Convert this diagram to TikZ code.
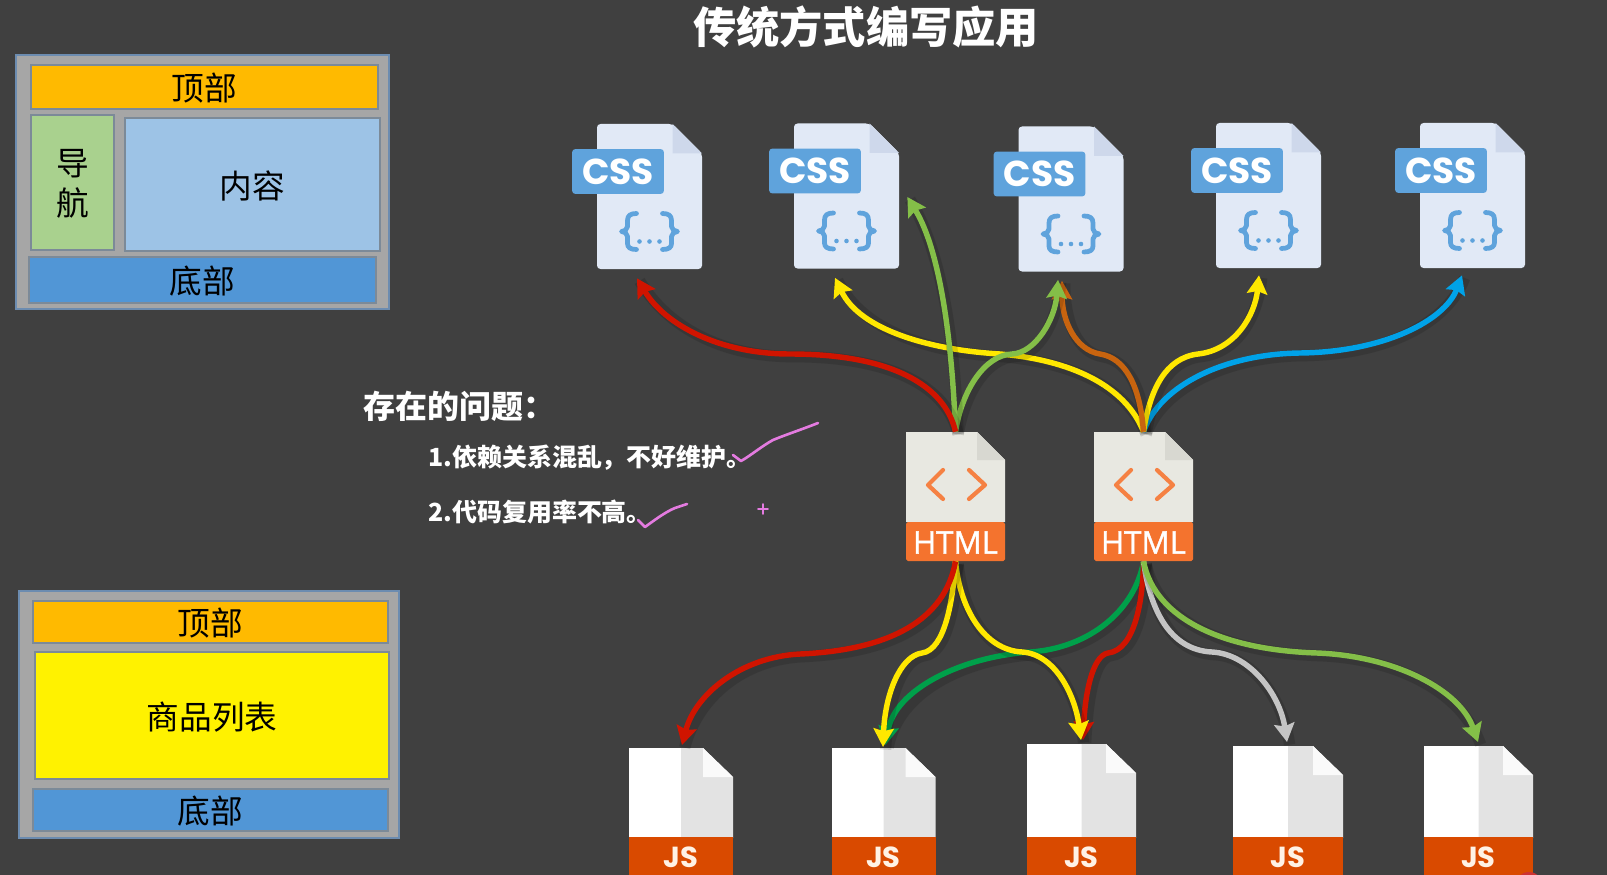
\documentclass[tikz,border=0pt]{standalone}
\usepackage{fontspec}
\usepackage{xcolor}
\usepackage{pgf,tikz}
\usetikzlibrary{arrows.meta,positioning,calc}
\setmainfont{Noto Sans CJK SC}
\newfontfamily\iconfont{Poppins}
\newfontfamily\htmlfont[FakeBold=1.2]{Open Sans}

\def\px{0.569pt}
\definecolor{bgcol}{HTML}{404040}
\definecolor{topcol}{HTML}{FFBA00}
\definecolor{navcol}{HTML}{A9D18E}
\definecolor{maincol}{HTML}{9DC3E6}
\definecolor{footcol}{HTML}{5196D6}
\definecolor{listcol}{HTML}{FFF200}
\definecolor{framecol}{HTML}{A6A6A6}
\definecolor{frameline}{HTML}{6C8CB0}
\definecolor{partline}{HTML}{7C8A98}
\definecolor{cssface}{HTML}{E1E9F6}
\definecolor{cssfold}{HTML}{CED8EB}
\definecolor{cssblue}{HTML}{5FA3DC}
\definecolor{htmlface}{HTML}{E8E8E1}
\definecolor{htmlfold}{HTML}{D8D8D1}
\definecolor{htmlband}{HTML}{F4732E}
\definecolor{jsgrey}{HTML}{E3E3E3}
\definecolor{jsband}{HTML}{D94A00}
\definecolor{redline}{HTML}{D01400}
\definecolor{yellowline}{HTML}{FFE800}
\definecolor{greenline}{HTML}{84BF48}
\definecolor{darkgreenline}{HTML}{00A04A}
\definecolor{orangeline}{HTML}{C8640F}
\definecolor{blueline}{HTML}{00A2E8}
\definecolor{greyline}{HTML}{C4C4C4}
\definecolor{penline}{HTML}{E47BE0}

\tikzset{
  frame/.style={fill=framecol,draw=frameline,line width=0.7pt,inner sep=0pt},
  part/.style={draw=partline,line width=0.8pt,inner sep=0pt,text=black,text depth=0pt,font=\fontsize{18.6}{22}\selectfont,align=center},
  flow/.style={line width=3.1pt,-{Stealth[length=10.5pt,width=11.5pt,inset=1.5pt]},
    preaction={draw=black,opacity=.13,line width=6.5pt,transform canvas={xshift=1.5pt,yshift=-1.5pt},-}},
  pen/.style={draw=penline,line width=1.5pt,line join=round,line cap=round},
  sheet/.style={inner sep=0pt,minimum width=#1*\px},
}

% sheet with a tab and curly braces: name, centre x, centre y
\newcommand{\cssdoc}[3]{
  \begin{scope}[shift={(#2,#3)}]
    \node[sheet=105,minimum height=145*\px] (#1) at (0,0) {};
    \fill[cssface,rounded corners=2pt] (-52.5,-72.5) -- (23,-72.5) -- (52.5,-43) -- (52.5,72.5) -- (-52.5,72.5) -- cycle;
    \fill[cssfold] (23,-72.5) -- (52.5,-43) -- (23,-43) -- cycle;
    \node[fill=cssblue,rounded corners=2pt,inner sep=0pt,minimum width=92*\px,minimum height=45*\px,text=white,font=\iconfont\bfseries\fontsize{20.5}{24}\selectfont] (#1t) at (-31.5,-25) {CSS};
    \foreach \s in {1,-1}
      \draw[cssblue,line width=2.7pt,line cap=round,line join=round,xscale=\s] (-13,17) .. controls (-19,17) and (-22,19) .. (-22,24) -- (-22,30) .. controls (-22,33) and (-25,35) .. (-28,35) .. controls (-25,35) and (-22,37) .. (-22,40) -- (-22,47) .. controls (-22,51) and (-19,53) .. (-13,53);
    \foreach \d in {-10,0,10}
      \fill[cssblue] (\d,45) circle (1.3pt);
  \end{scope}}

% page with chevrons and an orange band: name, centre x, centre y
\newcommand{\htmldoc}[3]{
  \begin{scope}[shift={(#2,#3)}]
    \node[sheet=99,minimum height=129*\px] (#1) at (0,0) {};
    \fill[htmlface] (-49.5,-64.5) -- (21.5,-64.5) -- (49.5,-36.5) -- (49.5,25.5) -- (-49.5,25.5) -- cycle;
    \fill[htmlfold] (21.5,-64.5) -- (49.5,-36.5) -- (21.5,-36.5) -- cycle;
    \fill[htmlband,rounded corners=1pt] (-49.5,25.5) rectangle (49.5,64.5);
    \draw[htmlband!90!white,line width=2.4pt,line cap=round,line join=round] (-12.5,-26.5) -- (-27.5,-11.5) -- (-12.5,2.5);
    \draw[htmlband!90!white,line width=2.4pt,line cap=round,line join=round] (13.5,-26.5) -- (29.5,-11.5) -- (13.5,2.5);
    \node[text=white,inner sep=0pt,font=\htmlfont\fontsize{17.8}{20}\selectfont] (#1t) at (0,46) {HTML};
  \end{scope}}

% script file cut off by the page edge: name, centre x, top y, half width
\newcommand{\jsdoc}[4]{
  \begin{scope}[shift={(#2,#3)}]
    \node[sheet={2*#4},minimum height={(875-#3)*\px},anchor=north] (#1) at (0,0) {};
    \fill[white] (-#4,0) rectangle (0,{838-#3});
    \fill[jsgrey] (0,0) -- ({#4-30},0) -- (#4,29) -- (#4,{838-#3}) -- (0,{838-#3}) -- cycle;
    \fill[white!96!gray] ({#4-30},0) -- (#4,29) -- ({#4-30},29) -- cycle;
    \fill[jsband] (-#4,{837-#3}) rectangle (#4,{876-#3});
    \node[text=white!90!orange,inner sep=0pt,text height=9pt,text depth=0pt,font=\iconfont\bfseries\fontsize{16.5}{20}\selectfont] (#1t) at (0,{860-#3}) {JS};
  \end{scope}}

\begin{document}
\begin{tikzpicture}[x=0.02cm,y=-0.02cm]
    \useasboundingbox (0,0) rectangle (1607,875);
    \clip (0,0) rectangle (1607,875);
    \fill[bgcol] (0,0) rectangle (1607,875);

    \node[text=white,font=\bfseries\fontsize{24.6}{28}\selectfont] (title) at (866,27) {传统方式编写应用};

    % page layout with a side bar
    \node[frame,minimum width=373*\px,minimum height=254*\px] (P1) at (202.5,182) {};
    \node[part,fill=topcol,minimum width=347*\px,minimum height=44*\px] (P1top) at (204.5,87) {顶部};
    \node[part,fill=navcol,minimum width=83*\px,minimum height=135*\px] (P1nav) at (72.5,182.5) {导\\[0.7pt]航};
    \node[part,fill=maincol,minimum width=255*\px,minimum height=133*\px] (P1main) at (252.5,184.5) {内容};
    \node[part,fill=footcol,minimum width=347*\px,minimum height=46*\px] (P1foot) at (202.5,280) {底部};

    % page layout with a product list
    \node[frame,minimum width=380*\px,minimum height=247*\px] (P2) at (209,714.5) {};
    \node[part,fill=topcol,minimum width=355*\px,minimum height=42*\px] (P2top) at (210.5,622) {顶部};
    \node[part,fill=listcol,minimum width=354*\px,minimum height=127*\px] (P2list) at (212,715.5) {商品列表};
    \node[part,fill=footcol,minimum width=355*\px,minimum height=42*\px] (P2foot) at (210.5,810) {底部};

    % problem list
    \node[text=white,anchor=west,inner sep=0pt,font=\bfseries\fontsize{18.2}{22}\selectfont] (Q) at (363,406) {存在的问题：};
    \node[text=white,anchor=west,inner sep=0pt,font=\bfseries\fontsize{14.2}{18}\selectfont] (Q1) at (428,458) {1.依赖关系混乱，不好维护。};
    \node[text=white,anchor=west,inner sep=0pt,font=\bfseries\fontsize{14.2}{18}\selectfont] (Q2) at (428,512) {2.代码复用率不高。};

    % pen strokes
    \draw[pen] (733,455) -- (741,461) .. controls (750,456) and (762,446) .. (773,440) .. controls (785,435) and (803,429) .. (818,423);
    \draw[pen] (638,520) -- (645,527) .. controls (652,522) and (665,512) .. (675,508) -- (687,504);
    \draw[pen,line width=0.9pt] (758,509) -- (768,509);
    \draw[pen,line width=0.9pt] (763,504) -- (763,514);

    % the files
    \cssdoc{C1}{649.5}{196.5}
    \cssdoc{C2}{846.5}{196}
    \cssdoc{C3}{1071}{199}
    \cssdoc{C4}{1268.5}{195.5}
    \cssdoc{C5}{1472.5}{195.5}
    \htmldoc{H1}{955.5}{496.5}
    \htmldoc{H2}{1143.5}{496.5}
    \jsdoc{J1}{681}{748}{52}
    \jsdoc{J2}{883.5}{748}{52}
    \jsdoc{J3}{1081.5}{744}{54.5}
    \jsdoc{J4}{1288}{746}{55}
    \jsdoc{J5}{1478.5}{746}{54.5}
    \fill[red!60!gray] (1529,886) circle (14);

    % html to css
    \draw[flow,draw=yellowline] (H2.north) .. controls (1125,385) and (1070,360) .. (1000,354) .. controls (930,350) and (860,330) .. ([shift={(-11.5,9)}]C2.south);
    \draw[flow,draw=blueline] (H2.north) .. controls (1160,385) and (1225,354) .. (1300,353) .. controls (1385,352) and (1445,320) .. ([shift={(-10.5,7)}]C5.south);
    \draw[flow,draw=yellowline] (H2.north) .. controls (1150,390) and (1165,358) .. (1198,354) .. controls (1235,350) and (1255,315) .. ([shift={(-9.5,7)}]C4.south);
    \draw[flow,draw=orangeline] (H2.north) .. controls (1140,385) and (1125,358) .. (1100,354) .. controls (1075,350) and (1062,320) .. ([shift={(-9,9)}]C3.south);
    \draw[flow,draw=greenline] (H1.north) .. controls (962,390) and (985,355) .. (1012,354) .. controls (1035,353) and (1055,320) .. ([shift={(-13,8)}]C3.south);
    \draw[flow,draw=greenline] (H1.north) .. controls (952,340) and (940,250) .. ([shift={(8,1)}]C2.east);
    \draw[flow,draw=redline] (H1.north) .. controls (945,385) and (890,354) .. (790,354) .. controls (720,354) and (665,325) .. ([shift={(-12.5,9)}]C1.south);

    % html to js
    \draw[flow,draw=darkgreenline] (H2.south) .. controls (1135,610) and (1090,648) .. (1030,652) .. controls (960,657) and (895,690) .. ([shift={(2,-3)}]J2.north);
    \draw[flow,draw=redline] (H2.south) .. controls (1143,600) and (1135,650) .. (1108,653) .. controls (1092,656) and (1085,695) .. ([shift={(1.5,-4)}]J3.north);
    \draw[flow,draw=yellowline] (H1.south) .. controls (960,610) and (985,650) .. (1022,652) .. controls (1055,654) and (1075,695) .. ([shift={(-0.5,-4)}]J3.north);
    \draw[flow,draw=yellowline] (H1.south) .. controls (953,600) and (945,650) .. (922,653) .. controls (900,656) and (885,695) .. ([shift={(-0.5,-1)}]J2.north);
    \draw[flow,draw=redline] (H1.south) .. controls (945,620) and (890,650) .. (800,654) .. controls (740,657) and (695,695) .. ([shift={(1,-3)}]J1.north);
    \draw[flow,draw=greyline] (H2.south) .. controls (1150,610) and (1170,650) .. (1212,652) .. controls (1250,654) and (1280,695) .. ([shift={(-1,-4)}]J4.north);
    \draw[flow,draw=greenline] (H2.south) .. controls (1155,620) and (1225,650) .. (1317,653) .. controls (1395,656) and (1460,690) .. ([shift={(-0.5,-4)}]J5.north);
\end{tikzpicture}
\end{document}
